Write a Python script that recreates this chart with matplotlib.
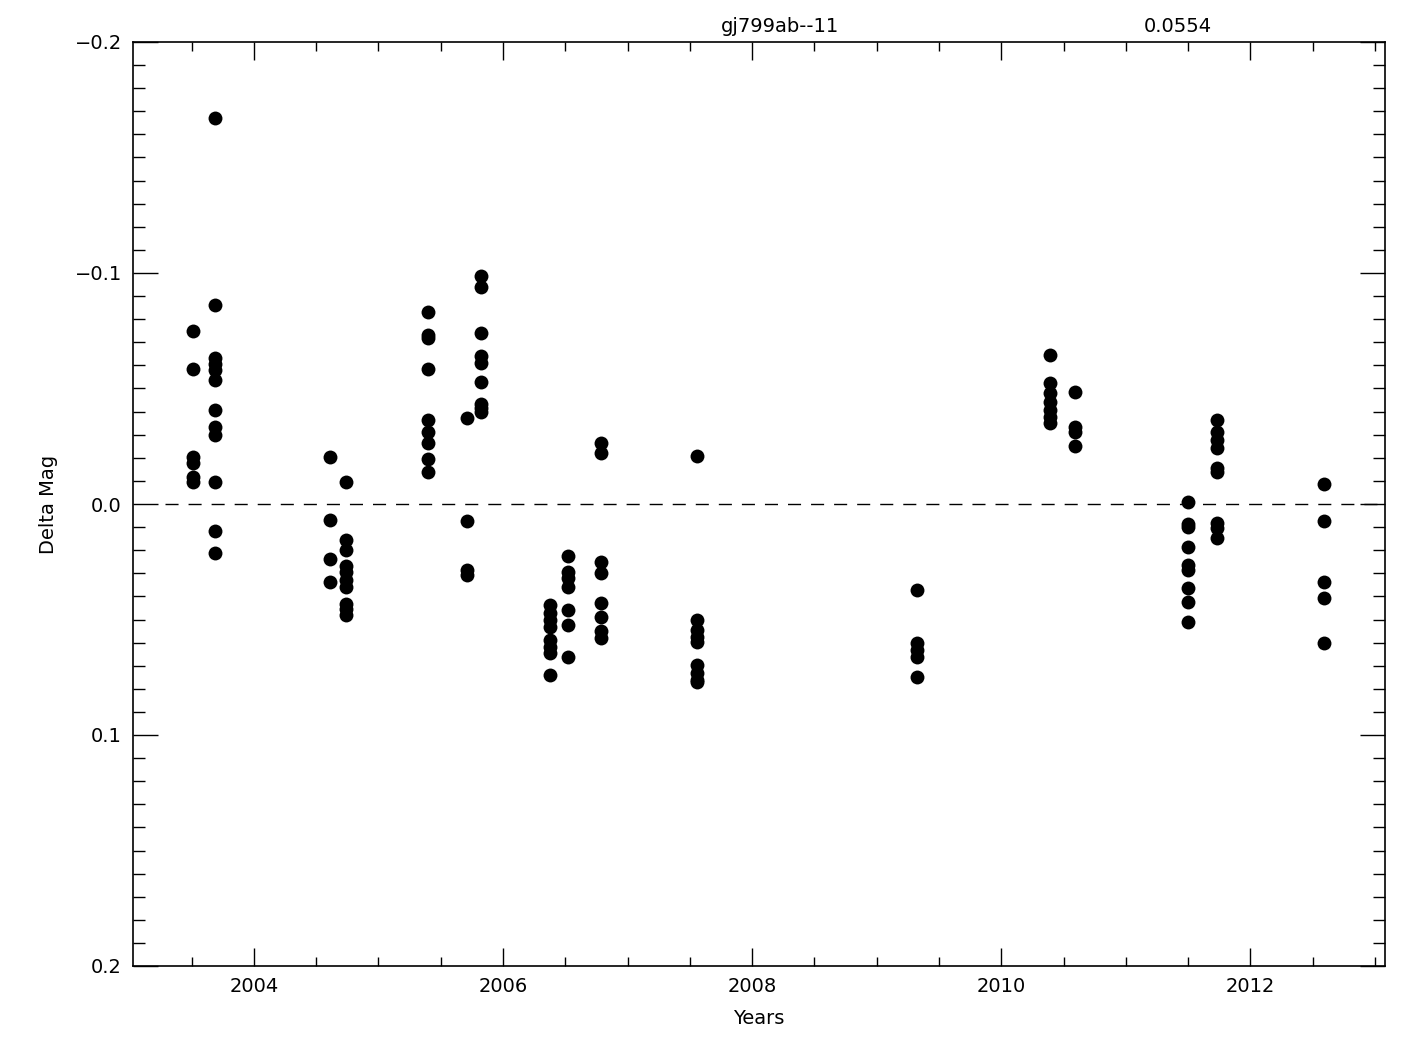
import numpy as np
import matplotlib
matplotlib.use("Agg")
import matplotlib.pyplot as plt
from matplotlib.ticker import MultipleLocator, FuncFormatter

# epochs (decimal years) and the delta mags observed at each epoch
epochs = [2003.51, 2003.69, 2004.61, 2004.74, 2005.40, 2005.71, 2005.82,
          2006.38, 2006.52, 2006.79, 2007.56, 2009.32, 2010.39, 2010.59,
          2011.50, 2011.73, 2012.59]

mags = [
    [-0.0749, -0.0584, -0.0203, -0.0177, -0.0117, -0.0095],
    [-0.1671, -0.0861, -0.0632, -0.0606, -0.0580, -0.0537, -0.0407, -0.0333,
     -0.0299, -0.0095, 0.0117, 0.0212],
    [-0.0203, 0.0069, 0.0238, 0.0338],
    [-0.0095, 0.0156, 0.0199, 0.0268, 0.0294, 0.0329, 0.0359, 0.0433, 0.0455, 0.0481],
    [-0.0831, -0.0732, -0.0719, -0.0584, -0.0364, -0.0312, -0.0264, -0.0195, -0.0139],
    [-0.0372, 0.0074, 0.0286, 0.0307],
    [-0.0987, -0.0939, -0.0740, -0.0641, -0.0610, -0.0528, -0.0433, -0.0416, -0.0398],
    [0.0437, 0.0472, 0.0502, 0.0532, 0.0589, 0.0619, 0.0645, 0.0740],
    [0.0225, 0.0294, 0.0320, 0.0359, 0.0459, 0.0524, 0.0662],
    [-0.0264, -0.0221, 0.0251, 0.0299, 0.0429, 0.0489, 0.0550, 0.0580],
    [-0.0208, 0.0502, 0.0545, 0.0576, 0.0597, 0.0697, 0.0732, 0.0762, 0.0771],
    [0.0372, 0.0602, 0.0632, 0.0662, 0.0749],
    [-0.0645, -0.0524, -0.0481, -0.0442, -0.0407, -0.0377, -0.0351],
    [-0.0485, -0.0333, -0.0312, -0.0251],
    [-0.0009, 0.0087, 0.0100, 0.0186, 0.0264, 0.0286, 0.0364, 0.0424, 0.0511],
    [-0.0364, -0.0312, -0.0277, -0.0242, -0.0156, -0.0139, 0.0082, 0.0104, 0.0147],
    [-0.0087, 0.0074, 0.0338, 0.0407, 0.0602],
]

star = "gj799ab--11"
rms = "0.0554"

x = np.concatenate([[e] * len(m) for e, m in zip(epochs, mags)])
y = np.concatenate(mags)

plt.rcParams['font.family'] = 'DejaVu Sans'
fig = plt.figure(figsize=(14.25, 10.5), dpi=100)
ax = fig.add_axes([133 / 1425, 1 - 966 / 1050, (1385 - 133) / 1425, (966 - 42) / 1050])

ax.plot(x, y, 'o', color='black', markersize=10, markeredgewidth=0)
ax.plot([2003.285, 2013.08], [0, 0], color='black', lw=1.0, dashes=(9.4, 7.2))

ax.set_xlim(2003.03, 2013.08)
ax.set_ylim(0.2, -0.2)

ax.xaxis.set_major_locator(MultipleLocator(2))
ax.xaxis.set_minor_locator(MultipleLocator(0.5))
ax.yaxis.set_major_locator(MultipleLocator(0.1))
ax.yaxis.set_minor_locator(MultipleLocator(0.01))
ax.yaxis.set_major_formatter(FuncFormatter(lambda v, p: ('%.1f' % v).replace('-', '\u2212')))

ax.tick_params(which='both', direction='in', top=True, right=True, width=1,
               labelsize=14, colors='black')
ax.tick_params(axis='x', which='major', length=13, pad=8)
ax.tick_params(axis='x', which='minor', length=6.5)
ax.tick_params(axis='y', which='major', length=18, pad=8)
ax.tick_params(axis='y', which='minor', length=8.5)
for s in ax.spines.values():
    s.set_linewidth(1.2)

ax.set_xlabel('Years', fontsize=14, labelpad=9)
ax.set_ylabel('Delta Mag', fontsize=14, labelpad=12)

fig.text(780 / 1425, 1 - 26 / 1050, star, fontsize=14, ha='center', va='center')
fig.text(1178 / 1425, 1 - 26 / 1050, rms, fontsize=14, ha='center', va='center')

fig.savefig('out.png', dpi=100)
